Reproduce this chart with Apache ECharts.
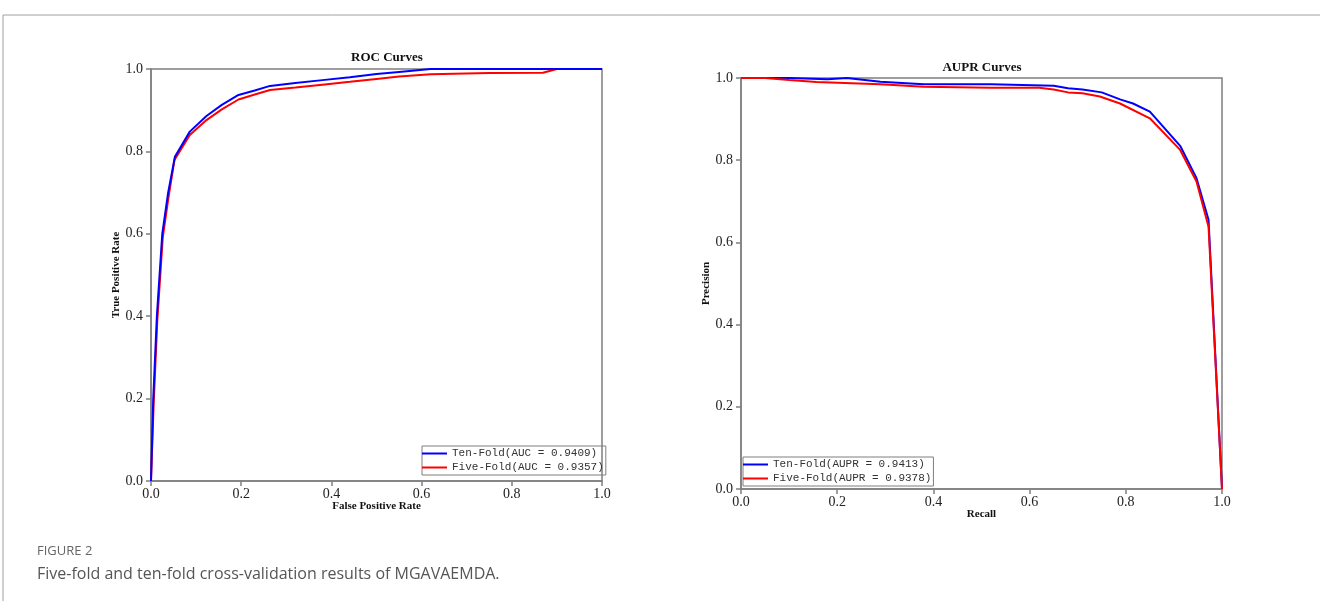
<!DOCTYPE html>
<html>
<head>
<meta charset="utf-8">
<script src="https://cdn.jsdelivr.net/npm/echarts@6/dist/echarts.min.js"></script>
<style>
  html, body { margin: 0; padding: 0; background: #fff; }
  #main { width: 1320px; height: 601px; }
</style>
</head>
<body>
<div id="main"></div>
<script>
// ROC curve, ten-fold
const rocFprTen = [0, 0.005, 0.013, 0.025, 0.038, 0.053, 0.086, 0.123, 0.157, 0.194, 0.23, 0.264, 0.32, 0.38, 0.441, 0.5, 0.55, 0.62, 0.8, 1.0]
const rocTprTen = [0, 0.2, 0.4, 0.6, 0.7, 0.787, 0.848, 0.886, 0.913, 0.937, 0.948, 0.959, 0.966, 0.973, 0.98, 0.988, 0.993, 1.0, 1.0, 1.0]
// ROC curve, five-fold
const rocFprFive = [0, 0.006, 0.014, 0.026, 0.039, 0.052, 0.086, 0.123, 0.157, 0.194, 0.23, 0.264, 0.32, 0.38, 0.441, 0.5, 0.55, 0.62, 0.75, 0.869, 0.9, 1.0]
const rocTprFive = [0, 0.19, 0.39, 0.59, 0.69, 0.779, 0.84, 0.876, 0.902, 0.926, 0.938, 0.949, 0.955, 0.962, 0.969, 0.976, 0.982, 0.987, 0.99, 0.991, 1.0, 1.0]
// PR curve, ten-fold
const prRecallTen = [0, 0.1, 0.18, 0.22, 0.29, 0.38, 0.52, 0.65, 0.68, 0.71, 0.75, 0.788, 0.815, 0.85, 0.913, 0.947, 0.972, 1.0]
const prPrecTen = [1.0, 1.0, 0.997, 1.0, 0.991, 0.985, 0.985, 0.981, 0.975, 0.972, 0.965, 0.948, 0.938, 0.918, 0.835, 0.756, 0.655, 0.0]
// PR curve, five-fold
const prRecallFive = [0, 0.05, 0.1, 0.157, 0.29, 0.38, 0.52, 0.62, 0.65, 0.68, 0.71, 0.746, 0.788, 0.85, 0.913, 0.947, 0.972, 1.0]
const prPrecFive = [1.0, 1.0, 0.995, 0.99, 0.985, 0.979, 0.976, 0.976, 0.972, 0.965, 0.963, 0.955, 0.938, 0.902, 0.825, 0.748, 0.638, 0.0]

const rocNames = ['Ten-Fold(AUC = 0.9409)', 'Five-Fold(AUC = 0.9357)']
const prNames = ['Ten-Fold(AUPR = 0.9413)', 'Five-Fold(AUPR = 0.9378)']

const zip = (xs, ys) => xs.map((x, i) => [x, ys[i]])

const axisGray = '#7f7f7f'
const serif = 'Liberation Serif'

function makeAxis(gridIndex, name, isY) {
  return {
    type: 'value',
    gridIndex: gridIndex,
    min: 0,
    max: 1,
    interval: 0.2,
    name: name,
    nameLocation: 'middle',
    nameGap: isY ? 29 : 20,
    nameMoveOverlap: false,
    nameTextStyle: { fontFamily: serif, fontWeight: 'bold', fontSize: 11, color: '#111' },
    axisLine: { show: true, lineStyle: { color: axisGray, width: 1.5 } },
    axisTick: { show: true, inside: false, length: 5, lineStyle: { color: axisGray, width: 1.5 } },
    axisLabel: {
      margin: isY ? 8 : 6,
      fontFamily: serif,
      fontSize: 14,
      color: '#222',
      formatter: v => v.toFixed(1)
    },
    splitLine: { show: false }
  }
}

function makeLine(name, data, color, xi) {
  return {
    name: name,
    type: 'line',
    xAxisIndex: xi,
    yAxisIndex: xi,
    data: data,
    showSymbol: false,
    symbol: 'none',
    smooth: false,
    lineStyle: { color: color, width: 2 },
    itemStyle: { color: color }
  }
}

function makeLegend(names, left, top) {
  return {
    data: names,
    left: left,
    top: top,
    orient: 'vertical',
    icon: 'rect',
    itemWidth: 25,
    itemHeight: 2,
    itemGap: 1,
    padding: [1, 2, 1, 0],
    borderColor: axisGray,
    borderWidth: 1,
    selectedMode: false,
    textStyle: { fontFamily: 'Liberation Mono', fontSize: 11, color: '#333', lineHeight: 13 }
  }
}

const chart = echarts.init(document.getElementById('main'))
chart.setOption({
  animation: false,
  backgroundColor: '#fff',
  grid: [
    { left: 151, top: 69, width: 451, height: 412, show: true, borderColor: axisGray, borderWidth: 1.5 },
    { left: 741, top: 78, width: 481, height: 411, show: true, borderColor: axisGray, borderWidth: 1.5 }
  ],
  xAxis: [makeAxis(0, 'False Positive Rate', false), makeAxis(1, 'Recall', false)],
  yAxis: [makeAxis(0, 'True Positive Rate', true), makeAxis(1, 'Precision', true)],
  legend: [makeLegend(rocNames, 422, 446), makeLegend(prNames, 743, 457)],
  series: [
    makeLine(rocNames[1], zip(rocFprFive, rocTprFive), '#ff0000', 0),
    makeLine(rocNames[0], zip(rocFprTen, rocTprTen), '#0000ff', 0),
    makeLine(prNames[0], zip(prRecallTen, prPrecTen), '#0000ff', 1),
    makeLine(prNames[1], zip(prRecallFive, prPrecFive), '#ff0000', 1)
  ],
  graphic: [
    // frame around the figure
    { type: 'line', shape: { x1: 3, y1: 15, x2: 1320, y2: 15 }, style: { stroke: '#a0a0a0', lineWidth: 1 } },
    { type: 'line', shape: { x1: 3, y1: 15, x2: 3, y2: 601 }, style: { stroke: '#a0a0a0', lineWidth: 1 } },
    // plot titles
    { type: 'text', x: 387, y: 58, style: { text: 'ROC Curves', font: 'bold 13px "Liberation Serif"', fill: '#111', align: 'center', verticalAlign: 'middle' } },
    { type: 'text', x: 982, y: 68, style: { text: 'AUPR Curves', font: 'bold 13px "Liberation Serif"', fill: '#111', align: 'center', verticalAlign: 'middle' } },
    // caption
    { type: 'text', x: 37, y: 551, style: { text: 'FIGURE 2', font: '13px "Open Sans"', fill: '#666', verticalAlign: 'middle' } },
    { type: 'text', x: 37, y: 574, style: { text: 'Five-fold and ten-fold cross-validation results of MGAVAEMDA.', font: '16px "Open Sans"', fill: '#555', verticalAlign: 'middle' } }
  ]
})
</script>
</body>
</html>
